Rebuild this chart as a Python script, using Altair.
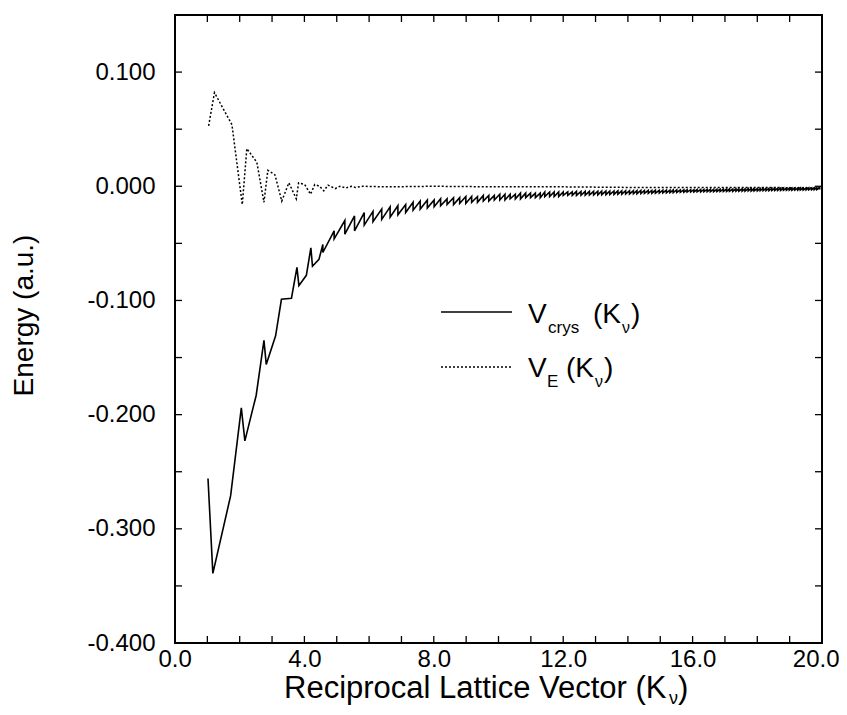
import altair as alt
import pandas as pd

# ---------------- data ----------------
# V_E(K) dotted curve
ve_x = [1.04, 1.22, 1.76, 2.08, 2.22, 2.53, 2.75, 2.87, 3.09, 3.30, 3.52, 3.75, 3.82,
        4.01, 4.19, 4.32, 4.47, 4.60, 4.73, 4.95, 5.10, 5.28, 5.45, 5.58, 5.80, 6.50,
        8.00, 10.00, 12.00, 14.00, 16.00, 18.00, 20.00]
ve_y = [0.053, 0.082, 0.054, -0.016, 0.033, 0.021, -0.014, 0.014, 0.010, -0.013, 0.003, -0.011, 0.003,
        0.0015, -0.007, 0.0015, 0.000, -0.004, 0.001, -0.002, 0.000, -0.0015, 0.000, -0.001, 0.000, -0.0005,
        0.000, -0.0005, -0.0005, -0.001, -0.001, -0.001, -0.0015]

# V_crys(K) solid curve, first (resolved) points
vc_x = [1.02, 1.17, 1.72, 2.05, 2.16, 2.51, 2.75, 2.82, 3.11, 3.29, 3.60, 3.77, 3.83,
        4.06, 4.20, 4.25, 4.45]
vc_y = [-0.256, -0.339, -0.271, -0.194, -0.223, -0.183, -0.135, -0.156, -0.131, -0.099, -0.098, -0.071, -0.087,
        -0.078, -0.054, -0.070, -0.064]

# V_crys(K) solid curve, saw-tooth region: spike position, spike top, value just after the drop
tooth_x = [4.57, 4.92, 5.25, 5.55, 5.85, 6.12, 6.39, 6.65, 6.89, 7.13,
           7.36, 7.58, 7.80, 8.01, 8.21, 8.41, 8.61, 8.80, 8.99, 9.17,
           9.35, 9.53, 9.70, 9.87, 10.04, 10.20, 10.36, 10.52, 10.68, 10.84,
           10.99, 11.14, 11.29, 11.43, 11.58, 11.72, 11.86, 12.00, 12.14, 12.28,
           12.41, 12.55, 12.68, 12.81, 12.94, 13.07, 13.19, 13.32, 13.44, 13.57,
           13.69, 13.81, 13.93, 14.05, 14.17, 14.28, 14.40, 14.51, 14.63, 14.74,
           14.85, 14.97, 15.08, 15.19, 15.30, 15.40, 15.51, 15.62, 15.73, 15.83,
           15.94, 16.04, 16.14, 16.25, 16.35, 16.45, 16.55, 16.65, 16.75, 16.85,
           16.95, 17.05, 17.14, 17.24, 17.34, 17.43, 17.53, 17.62, 17.72, 17.81,
           17.90, 18.00, 18.09, 18.18, 18.27, 18.36, 18.45, 18.54, 18.63, 18.72,
           18.81, 18.90, 18.99, 19.07, 19.16, 19.25, 19.33, 19.42, 19.51, 19.59,
           19.68, 19.76, 19.84, 19.93]
tooth_top = [-0.051, -0.039, -0.030, -0.026, -0.023, -0.022, -0.020, -0.018, -0.017, -0.016,
             -0.014, -0.013, -0.012, -0.012, -0.011, -0.011, -0.010, -0.010, -0.009, -0.009,
             -0.009, -0.008, -0.008, -0.008, -0.007, -0.007, -0.007, -0.007, -0.006, -0.006,
             -0.006, -0.006, -0.006, -0.005, -0.005, -0.005, -0.005, -0.005, -0.005, -0.005,
             -0.0045, -0.0045, -0.0045, -0.0044, -0.0044, -0.0043, -0.0043, -0.0042, -0.0042, -0.0041,
             -0.0040, -0.0040, -0.0039, -0.0039, -0.0038, -0.0038, -0.0037, -0.0037, -0.0036, -0.0036,
             -0.0035, -0.0035, -0.0034, -0.0034, -0.0033, -0.0033, -0.0032, -0.0032, -0.0031, -0.0031,
             -0.0030, -0.0030, -0.0029, -0.0029, -0.0028, -0.0028, -0.0027, -0.0027, -0.0026, -0.0026,
             -0.0025, -0.0025, -0.0024, -0.0024, -0.0023, -0.0023, -0.0022, -0.0022, -0.0021, -0.0021,
             -0.0020, -0.0020, -0.0020, -0.0019, -0.0019, -0.0019, -0.0018, -0.0018, -0.0018, -0.0017,
             -0.0017, -0.0017, -0.0016, -0.0016, -0.0016, -0.0015, -0.0015, -0.0015, -0.0015, -0.0014,
             -0.0014, -0.0014, -0.0013, -0.0013]
tooth_low = [-0.058, -0.046, -0.042, -0.039, -0.034, -0.031, -0.029, -0.027, -0.025, -0.023,
             -0.021, -0.020, -0.019, -0.018, -0.017, -0.016, -0.016, -0.015, -0.015, -0.014,
             -0.014, -0.013, -0.013, -0.012, -0.012, -0.012, -0.011, -0.011, -0.011, -0.010,
             -0.010, -0.010, -0.010, -0.009, -0.009, -0.009, -0.009, -0.008, -0.008, -0.008,
             -0.0080, -0.0079, -0.0078, -0.0077, -0.0076, -0.0075, -0.0074, -0.0073, -0.0072, -0.0071,
             -0.0070, -0.0069, -0.0068, -0.0067, -0.0066, -0.0065, -0.0064, -0.0063, -0.0062, -0.0061,
             -0.0060, -0.0059, -0.0058, -0.0057, -0.0056, -0.0055, -0.0054, -0.0053, -0.0052, -0.0051,
             -0.0050, -0.0050, -0.0049, -0.0049, -0.0048, -0.0048, -0.0047, -0.0047, -0.0046, -0.0046,
             -0.0045, -0.0045, -0.0044, -0.0044, -0.0043, -0.0043, -0.0042, -0.0042, -0.0041, -0.0041,
             -0.0040, -0.0040, -0.0039, -0.0039, -0.0038, -0.0038, -0.0037, -0.0037, -0.0036, -0.0036,
             -0.0035, -0.0035, -0.0034, -0.0034, -0.0033, -0.0033, -0.0032, -0.0032, -0.0031, -0.0031,
             -0.0030, -0.0030, -0.0029, -0.0029]

x_ticks = list(range(0, 21))
x_labels = [0, 4, 8, 12, 16, 20]
y_ticks = [-0.4, -0.35, -0.3, -0.25, -0.2, -0.15, -0.1, -0.05, 0.0, 0.05, 0.1, 0.15]
y_labels = [-0.4, -0.3, -0.2, -0.1, 0.0, 0.1]

# ---------------- build tables ----------------
rows = []
for x, y in zip(vc_x, vc_y):
    rows.append({"x": x, "y": y})
for x, t, l in zip(tooth_x, tooth_top, tooth_low):
    rows.append({"x": x, "y": t})
    rows.append({"x": x, "y": l})
vc_df = pd.DataFrame(rows)
vc_df["o"] = range(len(vc_df))
ve_df = pd.DataFrame({"x": ve_x, "y": ve_y})
xt_df = pd.DataFrame({"x": x_ticks})
yt_df = pd.DataFrame({"y": y_ticks})

W, H = 647, 628
FONT = "Liberation Sans"

xscale = alt.Scale(domain=[0, 20], nice=False, zero=False)
yscale = alt.Scale(domain=[-0.4, 0.15], nice=False, zero=False)

xaxis = alt.Axis(values=x_labels, format=".1f", ticks=False, domain=False, grid=False,
                 labelFontSize=24, labelFont=FONT, labelColor="black", labelPadding=4,
                 labelFlush=True, labelFlushOffset=17, title=None)
yaxis = alt.Axis(values=y_labels, ticks=False, domain=False, grid=False,
                 labelExpr="replace(format(datum.value, '.3f'), '\u2212', '-')",
                 labelFontSize=24, labelFont=FONT, labelColor="black", labelPadding=20,
                 title="Energy (a.u.)", titleFontSize=28, titleFont=FONT, titleFontWeight="normal",
                 titleColor="black", titleX=-137, titleY=300)

solid = alt.Chart(vc_df).mark_line(color="black", strokeWidth=1.6).encode(
    x=alt.X("x:Q", scale=xscale, axis=xaxis),
    y=alt.Y("y:Q", scale=yscale, axis=yaxis),
    order="o:Q",
)
dotted = alt.Chart(ve_df).mark_line(color="black", strokeWidth=1.5, strokeDash=[2, 2]).encode(
    x=alt.X("x:Q"),
    y=alt.Y("y:Q"),
    order="x:Q",
)

TL = 7
tick_b = alt.Chart(xt_df).mark_rule(color="black", strokeWidth=1.3).encode(
    x=alt.X("x:Q"), y=alt.value(H), y2=alt.value(H - TL))
tick_t = alt.Chart(xt_df).mark_rule(color="black", strokeWidth=1.3).encode(
    x=alt.X("x:Q"), y=alt.value(0), y2=alt.value(TL))
tick_l = alt.Chart(yt_df).mark_rule(color="black", strokeWidth=1.3).encode(
    y=alt.Y("y:Q"), x=alt.value(0), x2=alt.value(TL))
tick_r = alt.Chart(yt_df).mark_rule(color="black", strokeWidth=1.3).encode(
    y=alt.Y("y:Q"), x=alt.value(W), x2=alt.value(W - TL))

# legend
leg_solid = alt.Chart(pd.DataFrame({"a": [0]})).mark_rule(color="black", strokeWidth=1.6).encode(
    x=alt.value(266), x2=alt.value(337), y=alt.value(297))
leg_dot = alt.Chart(pd.DataFrame({"a": [0]})).mark_rule(color="black", strokeWidth=1.4, strokeDash=[2, 2]).encode(
    x=alt.value(266), x2=alt.value(337), y=alt.value(352))


def txt(s, px, py, size):
    return alt.Chart(pd.DataFrame({"t": [s]})).mark_text(
        align="left", baseline="alphabetic", fontSize=size, font=FONT, color="black"
    ).encode(text="t:N", x=alt.value(px), y=alt.value(py))


texts = [
    txt("V", 353, 308, 28), txt("crys", 373, 318, 17), txt("(K", 418, 308, 28),
    txt("\u03bd", 447, 318, 16), txt(")", 456, 308, 28),
    txt("V", 353, 362, 28), txt("E", 372, 372, 17), txt("(K", 391, 362, 28),
    txt("\u03bd", 420, 372, 16), txt(")", 429, 362, 28),
    txt("Reciprocal Lattice Vector (K", 109, 683, 31), txt("\u03bd", 494, 689, 18), txt(")", 503, 683, 31),
]

chart = alt.layer(
    solid, dotted, tick_b, tick_t, tick_l, tick_r, leg_solid, leg_dot, *texts
).properties(
    width=W, height=H,
    autosize=alt.AutoSizeParams(type="none"),
    padding={"left": 167, "top": 7, "right": 17, "bottom": 64},
    background="white",
).configure_view(stroke="black", strokeWidth=2)

chart.save("out.html", embed_options={"renderer": "svg", "actions": False})
